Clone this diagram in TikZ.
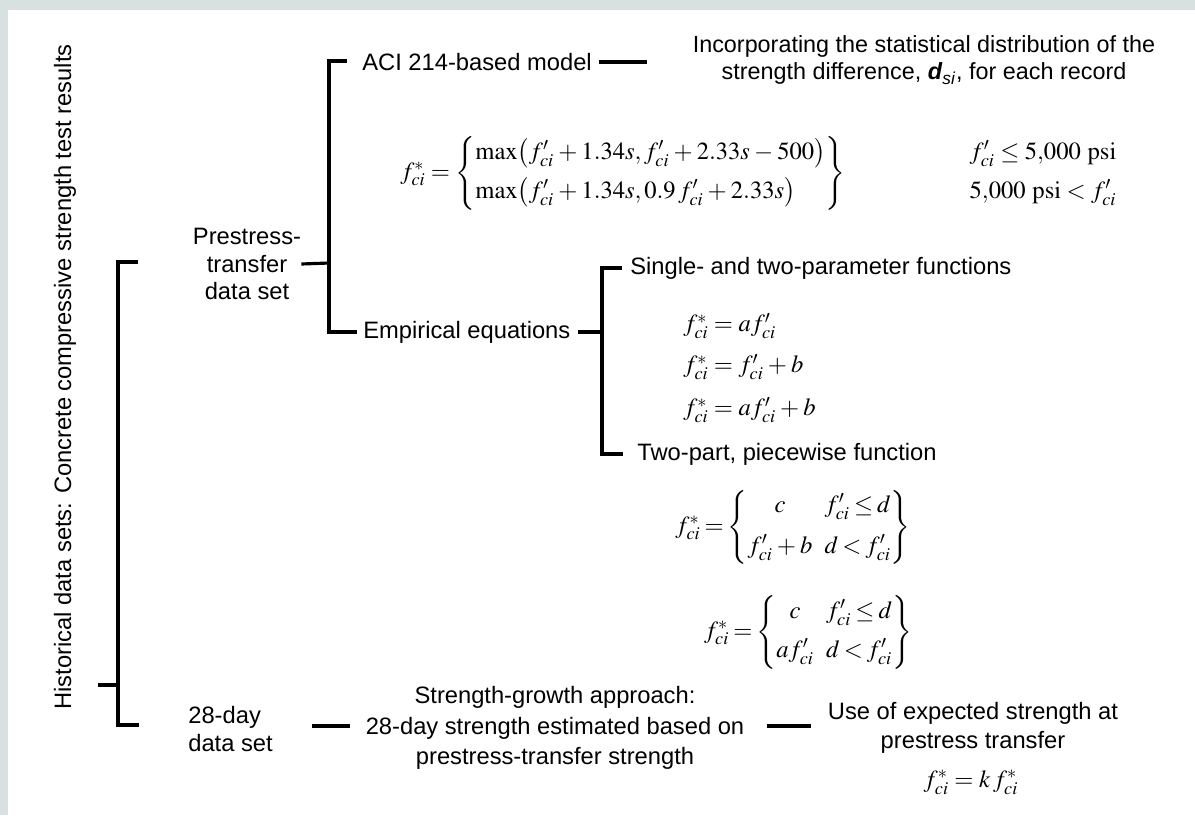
\documentclass[tikz,border=0pt]{standalone}
\usepackage{amsmath}
\usepackage{mathptmx}
\usepackage[no-math]{fontspec}
\setmainfont{Liberation Sans}
\usepackage{xcolor}
\usepackage{tikz}

\definecolor{bgband}{RGB}{217,224,224}
\newcommand{\tightmath}{\medmuskip=3mu\relax\thickmuskip=4mu\relax}
\newcommand{\tightermath}{\medmuskip=3mu\relax\thickmuskip=3mu\relax}

\begin{document}
\begin{tikzpicture}[x=0.02cm,y=-0.02cm,
  txt/.style={font=\fontsize{13.5}{15.6}\selectfont, inner sep=0pt, align=center},
  eq/.style={font=\fontsize{14}{17}\selectfont, inner sep=0pt},
  link/.style={line width=1.8pt}]
%% Frame %%
\fill[bgband] (0,0) rectangle (1195,815);
\fill[white] (8,10) rectangle (1195,815);
\useasboundingbox (0,0) rectangle (1195,815);

%% Labels %%
\node[txt, rotate=90] (title) at (65,377) {Historical data sets: Concrete compressive strength test results};

\node[txt] (ptd) at (247,264) {Prestress-\\transfer\\data set};
\node[txt, align=left, anchor=west] (d28) at (188,729) {28-day\\data set};

\node[txt, anchor=west] (aci) at (362,62) {ACI 214-based model};
\node[txt, font=\fontsize{13.3}{15.4}\selectfont] (inc) at (924,60) {Incorporating the statistical distribution of the\\strength difference, \textbf{\textit{d}}\textsubscript{\textit{si}}, for each record};

\node[txt, anchor=west] (emp) at (363,332) {Empirical equations};
\node[txt, anchor=west] (spf) at (630,268) {Single- and two-parameter functions};
\node[txt, anchor=west] (tpf) at (637,454) {Two-part, piecewise function};

\node[txt, font=\fontsize{13.5}{17.3}\selectfont] (sg) at (555,728) {Strength-growth approach:\\28-day strength estimated based on\\prestress-transfer strength};
\node[txt, font=\fontsize{13.5}{16.4}\selectfont] (use) at (973,728) {Use of expected strength at\\prestress transfer};

%% Equations %%
\node[eq, anchor=west] (acieq) at (400,173) {$\tightmath
  f^*_{ci}=\left\{\begin{array}{@{}l@{}}
  \max\bigl(f'_{ci}+1.34s,f'_{ci}+2.33s-500\bigr)\\[5pt]
  \max\bigl(f'_{ci}+1.34s,0.9\,f'_{ci}+2.33s\bigr)
  \end{array}\right\}$};
\node[eq] (acicond) at (1043,173) {$\tightmath\begin{array}{c}
  f'_{ci}\le 5{,}000~\mathrm{psi}\\[5pt]
  5{,}000~\mathrm{psi}<f'_{ci}
  \end{array}$};

\node[eq, anchor=west] (e1) at (683,326) {$\tightmath f^*_{ci}=af'_{ci}$};
\node[eq, anchor=west] (e2) at (683,367) {$\tightmath f^*_{ci}=f'_{ci}+b$};
\node[eq, anchor=west] (e3) at (683,410) {$\tightmath f^*_{ci}=af'_{ci}+b$};

\node[eq] (pw1) at (793,527) {$\tightermath
  f^*_{ci}=\left\{\begin{array}{@{}c@{\hspace{7pt}}c@{}}
  c & f'_{ci}\le d\\[6pt]
  f'_{ci}+b & d<f'_{ci}
  \end{array}\right\}$};
\node[eq] (pw2) at (808,632) {$\tightermath
  f^*_{ci}=\left\{\begin{array}{@{}c@{\hspace{7pt}}c@{}}
  c & f'_{ci}\le d\\[5pt]
  af'_{ci} & d<f'_{ci}
  \end{array}\right\}$};

\node[eq] (kf) at (971,782) {$\tightmath f^*_{ci}=k\,f^*_{ci}$};

%% Brackets %%
\coordinate (b1t) at (138,262);
\coordinate (b1b) at (139,725);
\coordinate (b1s) at (98,685);
\draw[link] (b1t) -- ++(-20,0) |- (b1b);
\draw[link] (b1s) -- ++(20,0);

\coordinate (j2) at (329,263);
\coordinate (b2t) at (347,61);
\coordinate (b2b) at (357,332);
\draw[link] (ptd.east) -- (j2);
\draw[link] (b2t) -| (j2) |- (b2b);

\coordinate (j3) at (602,332);
\coordinate (b3t) at (622,268);
\coordinate (b3b) at (623,454);
\draw[link, shorten <=4pt] (emp.east) -- (j3);
\draw[link] (b3t) -| (j3) |- (b3b);

%% Links %%
\coordinate (l-aci) at (647,62);
\coordinate (l-28) at (350,726);
\coordinate (l-sg) at (811,726);
\draw[link, shorten <=4pt] (aci.east) -- (l-aci);
\draw[link, shorten <=22pt] (l-28 -| d28.east) -- (l-28);
\draw[link, shorten <=12.5pt] (l-sg -| sg.east) -- (l-sg);

\end{tikzpicture}
\end{document}
